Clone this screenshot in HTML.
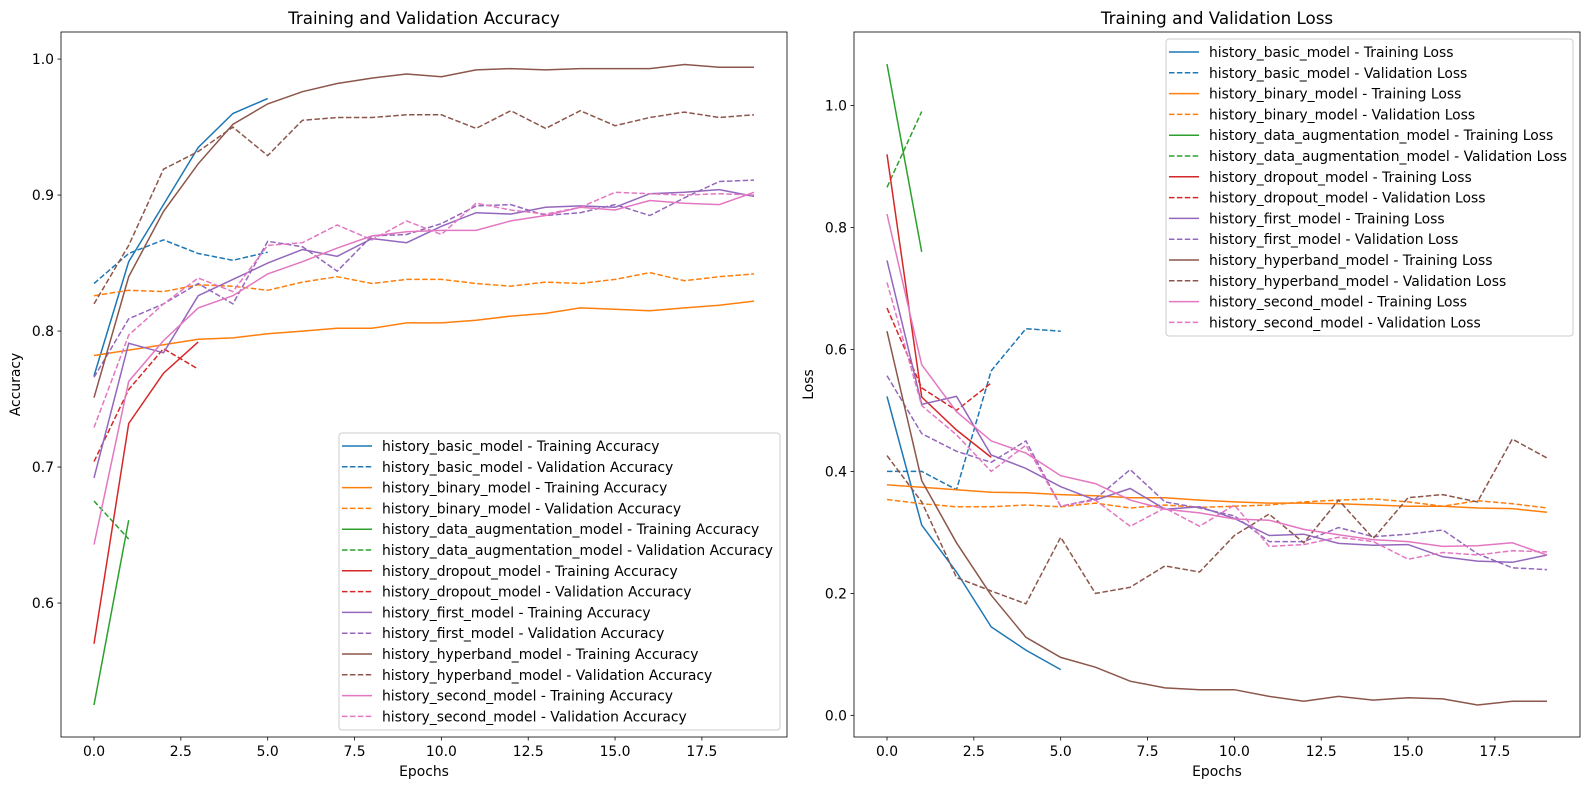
<!DOCTYPE html>
<html><head><meta charset="utf-8"><style>
body{margin:0;background:#fff;font-family:"DejaVu Sans","Liberation Sans",sans-serif}
svg{display:block}
</style></head><body>
<svg id="chart" width="1589" height="790" xmlns="http://www.w3.org/2000/svg" font-family="DejaVu Sans, Liberation Sans, sans-serif"></svg>
<script>
const epochs=[0,1,2,3,4,5,6,7,8,9,10,11,12,13,14,15,16,17,18,19];
const modelNames=["history_basic_model","history_binary_model","history_data_augmentation_model","history_dropout_model","history_first_model","history_hyperband_model","history_second_model"];
const modelColors=["#1f77b4","#ff7f0e","#2ca02c","#d62728","#9467bd","#8c564b","#e377c2"];
const accTrain=[
[0.767,0.851,0.893,0.935,0.960,0.971],
[0.782,0.786,0.790,0.794,0.795,0.798,0.800,0.802,0.802,0.806,0.806,0.808,0.811,0.813,0.817,0.816,0.815,0.817,0.819,0.822],
[0.525,0.661],
[0.570,0.732,0.769,0.792],
[0.692,0.791,0.784,0.826,0.838,0.850,0.860,0.855,0.868,0.865,0.877,0.887,0.886,0.891,0.892,0.891,0.901,0.902,0.904,0.899],
[0.751,0.840,0.888,0.923,0.952,0.967,0.976,0.982,0.986,0.989,0.987,0.992,0.993,0.992,0.993,0.993,0.993,0.996,0.994,0.994],
[0.643,0.763,0.793,0.817,0.826,0.842,0.851,0.861,0.870,0.873,0.874,0.874,0.881,0.885,0.891,0.889,0.896,0.894,0.893,0.902]];
const accVal=[
[0.835,0.857,0.867,0.857,0.852,0.858],
[0.826,0.830,0.829,0.834,0.833,0.830,0.836,0.840,0.835,0.838,0.838,0.835,0.833,0.836,0.835,0.838,0.843,0.837,0.840,0.842],
[0.675,0.647],
[0.704,0.757,0.787,0.772],
[0.766,0.809,0.820,0.835,0.820,0.866,0.862,0.844,0.870,0.871,0.879,0.892,0.893,0.885,0.887,0.893,0.885,0.898,0.910,0.911],
[0.820,0.863,0.919,0.932,0.950,0.929,0.955,0.957,0.957,0.959,0.959,0.949,0.962,0.949,0.962,0.951,0.957,0.961,0.957,0.959],
[0.729,0.797,0.820,0.839,0.829,0.863,0.865,0.878,0.867,0.881,0.871,0.894,0.889,0.886,0.891,0.902,0.901,0.900,0.901,0.900]];
const lossTrain=[
[0.523,0.312,0.235,0.145,0.107,0.075],
[0.378,0.374,0.370,0.366,0.365,0.362,0.360,0.357,0.357,0.353,0.350,0.348,0.348,0.347,0.345,0.343,0.343,0.340,0.339,0.333],
[1.068,0.760],
[0.920,0.522,0.468,0.423],
[0.746,0.510,0.523,0.427,0.405,0.375,0.353,0.372,0.338,0.342,0.323,0.295,0.297,0.282,0.279,0.280,0.260,0.253,0.251,0.263],
[0.630,0.385,0.283,0.197,0.128,0.095,0.079,0.056,0.045,0.042,0.042,0.031,0.023,0.031,0.025,0.029,0.027,0.017,0.023,0.023],
[0.822,0.575,0.498,0.450,0.430,0.393,0.380,0.353,0.338,0.332,0.322,0.320,0.305,0.296,0.288,0.285,0.277,0.278,0.283,0.263]];
const lossVal=[
[0.400,0.400,0.370,0.565,0.634,0.630],
[0.354,0.347,0.342,0.342,0.345,0.342,0.348,0.340,0.345,0.341,0.343,0.345,0.350,0.353,0.355,0.350,0.343,0.352,0.347,0.340],
[0.866,0.990],
[0.668,0.537,0.500,0.545],
[0.557,0.462,0.433,0.415,0.450,0.343,0.355,0.403,0.350,0.340,0.327,0.285,0.285,0.308,0.293,0.297,0.304,0.265,0.242,0.239],
[0.426,0.350,0.226,0.204,0.183,0.292,0.200,0.210,0.245,0.235,0.295,0.330,0.283,0.353,0.290,0.357,0.362,0.350,0.453,0.422],
[0.710,0.508,0.460,0.400,0.443,0.343,0.353,0.310,0.340,0.310,0.345,0.277,0.280,0.292,0.285,0.256,0.267,0.263,0.270,0.268]];
const xTicks=[0,2.5,5,7.5,10,12.5,15,17.5];
const xTickLabels=["0.0","2.5","5.0","7.5","10.0","12.5","15.0","17.5"];
const accTicks=[0.6,0.7,0.8,0.9,1.0];
const accTickLabels=["0.6","0.7","0.8","0.9","1.0"];
const lossTicks=[0,0.2,0.4,0.6,0.8,1.0];
const lossTickLabels=["0.0","0.2","0.4","0.6","0.8","1.0"];

const NS="http://www.w3.org/2000/svg";
const svg=document.getElementById('chart');
function mk(tag,attrs,parent){const e=document.createElementNS(NS,tag);for(const k in attrs)e.setAttribute(k,attrs[k]);(parent||svg).appendChild(e);return e;}

function drawPanel(p){
  const g=mk('g',{});
  
  
  const xs=v=>p.x0+(v-p.xmin)/(p.xmax-p.xmin)*(p.x1-p.x0);
  const ys=v=>p.y1-(v-p.ymin)/(p.ymax-p.ymin)*(p.y1-p.y0);
  for(let m=0;m<modelNames.length;m++){
    [[p.train[m],false],[p.val[m],true]].forEach(([arr,dash])=>{
      const pts=arr.map((v,i)=>xs(epochs[i]).toFixed(1)+','+ys(v).toFixed(1)).join(' ');
      const pl=mk('polyline',{points:pts,fill:'none',stroke:modelColors[m],'stroke-width':1.5,'stroke-dasharray':dash?'5.5,2.4':'none'},g);
      
      
    });
  }
  mk('rect',{x:p.x0,y:p.y0,width:p.x1-p.x0,height:p.y1-p.y0,fill:'none',stroke:'#000','stroke-width':0.8},g);
  xTicks.forEach((t,i)=>{const x=xs(t);mk('line',{x1:x,x2:x,y1:p.y1,y2:p.y1+3.5,stroke:'#000','stroke-width':0.8},g);
    const tx=mk('text',{x:x,y:p.y1+19,'font-size':13.9,'text-anchor':'middle'},g);tx.textContent=xTickLabels[i];
    });
  p.yt.forEach((t,i)=>{const y=ys(t);mk('line',{x1:p.x0-3.5,x2:p.x0,y1:y,y2:y,stroke:'#000','stroke-width':0.8},g);
    const tx=mk('text',{x:p.x0-7,y:y+5,'font-size':13.9,'text-anchor':'end'},g);tx.textContent=p.ytl[i];
    });
  let t=mk('text',{x:(p.x0+p.x1)/2,y:24,'font-size':16.7,'text-anchor':'middle'},g);t.textContent=p.title;
  
  t=mk('text',{x:(p.x0+p.x1)/2,y:776,'font-size':13.9,'text-anchor':'middle'},g);t.textContent='Epochs';
  
  t=mk('text',{x:0,y:0,'font-size':13.9,'text-anchor':'middle',transform:`translate(${p.ylabX},${(p.y0+p.y1)/2}) rotate(-90)`},g);t.textContent=p.ylabel;
  
  const lg=mk('g',{},g);
  
  
  mk('rect',{x:p.lx,y:p.ly,width:p.lw,height:297,rx:3,fill:'#fff','fill-opacity':0.8,stroke:'#ccc'},lg);
  let k=0;
  for(let m=0;m<modelNames.length;m++){
    ['Training','Validation'].forEach((kind,j)=>{
      const y=p.ly+13+k*20.8;
      mk('line',{x1:p.lx+3,x2:p.lx+33,y1:y,y2:y,stroke:modelColors[m],'stroke-width':1.5,'stroke-dasharray':j?'5.5,2.4':'none'},lg);
      const tx=mk('text',{x:p.lx+43,y:y+5,'font-size':13.9},lg);tx.textContent=modelNames[m]+' - '+kind+' '+p.word;
      
      k++;
    });
  }
}
drawPanel({key:'accuracy',x0:61,x1:787,y0:32,y1:737,xmin:-0.95,xmax:19.95,ymin:0.5015,ymax:1.0199,
  train:accTrain,val:accVal,yt:accTicks,ytl:accTickLabels,title:'Training and Validation Accuracy',ylabel:'Accuracy',ylabX:20,
  lx:339,ly:433,lw:441,word:'Accuracy'});
drawPanel({key:'loss',x0:854,x1:1580,y0:32,y1:737,xmin:-0.95,xmax:19.95,ymin:-0.0355,ymax:1.1206,
  train:lossTrain,val:lossVal,yt:lossTicks,ytl:lossTickLabels,title:'Training and Validation Loss',ylabel:'Loss',ylabX:813,
  lx:1166,ly:39,lw:407,word:'Loss'});
</script>
</body></html>
